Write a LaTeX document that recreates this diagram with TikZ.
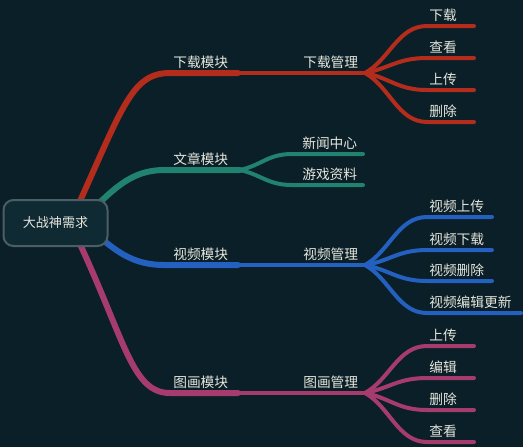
\documentclass[tikz,border=0pt]{standalone}
\usepackage{fontspec}
\newfontfamily\cjk{Noto Sans CJK SC}
\pgfdeclarelayer{bgl}
\pgfdeclarelayer{lines}
\pgfsetlayers{bgl,lines,main}
\definecolor{bgcol}{HTML}{0A1F27}
\definecolor{rootfill}{HTML}{0F2A33}
\definecolor{rootline}{HTML}{4C5E65}
\definecolor{txt}{HTML}{E6E6DC}
\definecolor{cred}{HTML}{B42C1C}
\definecolor{cteal}{HTML}{21826F}
\definecolor{cblue}{HTML}{2460BF}
\definecolor{cpink}{HTML}{A63B6D}
\tikzset{
  rootbox/.style={draw=rootline, fill=rootfill, line width=1.5pt, rounded corners=7.5pt,
    minimum width=78pt, minimum height=34.5pt, text=txt, inner sep=0pt,
    font=\cjk\fontsize{9.8}{12}\selectfont},
  lbl/.style={anchor=west, inner sep=0pt, text=txt, font=\cjk\fontsize{10.3}{12}\selectfont},
  mainbr/.style={line width=4.5pt, line cap=round},
  subbr/.style={line width=3pt, line cap=round},
}
\begin{document}
\begin{tikzpicture}[x=0.75pt,y=-0.75pt]
\begin{pgfonlayer}{bgl}
\fill[bgcol] (0,0) rectangle (523,447);
\end{pgfonlayer}
\useasboundingbox (0,0) rectangle (523,447);

\node[rootbox] (root) at (55.5,223) {大战神需求};

% coordinates
\coordinate (rs) at (70,223);
\coordinate (ts) at (70,230);
\coordinate (bs) at (70,212);
\coordinate (rm) at (238,73);   \coordinate (rf) at (365,73);
\coordinate (tf) at (240,170);
\coordinate (bm) at (238,265);  \coordinate (bf) at (365,265);
\coordinate (pm) at (238,393);  \coordinate (pf) at (365,393);

\coordinate (r1) at (474,26);  \coordinate (r2) at (474,58);
\coordinate (r3) at (474,90);  \coordinate (r4) at (474,122);
\coordinate (t1) at (363,154); \coordinate (t2) at (363,185);
\coordinate (b1) at (492,217); \coordinate (b2) at (492,250);
\coordinate (b3) at (492,281); \coordinate (b4) at (521,313);
\coordinate (p1) at (474,346); \coordinate (p2) at (474,378);
\coordinate (p3) at (474,410); \coordinate (p4) at (474,442);

\begin{pgfonlayer}{lines}
% red
\draw[mainbr, cred] (rs) .. controls (122,110) and (130,73) .. (170,73) -- (rm);
\draw[subbr, cred] (rm) -- (rf);
\draw[subbr, cred] (rf) .. controls (390,59) and (398,26) .. (427,26) -- (r1);
\draw[subbr, cred] (rf) .. controls (390,68) and (398,58) .. (427,58) -- (r2);
\draw[subbr, cred] (rf) .. controls (390,78) and (398,90) .. (427,90) -- (r3);
\draw[subbr, cred] (rf) .. controls (390,87) and (398,122) .. (427,122) -- (r4);
% teal
\draw[mainbr, cteal] (ts) .. controls (110,195) and (125,170) .. (165,170) -- (tf);
\draw[subbr, cteal] (tf) .. controls (262,165) and (268,154) .. (292,154) -- (t1);
\draw[subbr, cteal] (tf) .. controls (262,175) and (268,185) .. (292,185) -- (t2);
% blue
\draw[mainbr, cblue] (bs) .. controls (110,245) and (125,265) .. (165,265) -- (bm);
\draw[subbr, cblue] (bm) -- (bf);
\draw[subbr, cblue] (bf) .. controls (390,251) and (398,217) .. (427,217) -- (b1);
\draw[subbr, cblue] (bf) .. controls (390,261) and (398,250) .. (427,250) -- (b2);
\draw[subbr, cblue] (bf) .. controls (390,270) and (398,281) .. (427,281) -- (b3);
\draw[subbr, cblue] (bf) .. controls (390,279) and (398,313) .. (427,313) -- (b4);
% pink
\draw[mainbr, cpink] (rs) .. controls (125,336) and (130,393) .. (170,393) -- (pm);
\draw[subbr, cpink] (pm) -- (pf);
\draw[subbr, cpink] (pf) .. controls (390,379) and (398,346) .. (427,346) -- (p1);
\draw[subbr, cpink] (pf) .. controls (390,388) and (398,378) .. (427,378) -- (p2);
\draw[subbr, cpink] (pf) .. controls (390,398) and (398,410) .. (427,410) -- (p3);
\draw[subbr, cpink] (pf) .. controls (390,407) and (398,442) .. (427,442) -- (p4);
\end{pgfonlayer}

% labels
\node[lbl] (l1) at (173,62.5) {下载模块};
\node[lbl] (l11) at (303,62.5) {下载管理};
\node[lbl] (l111) at (429,15.5) {下载};
\node[lbl] (l112) at (429,47.5) {查看};
\node[lbl] (l113) at (429,79.5) {上传};
\node[lbl] (l114) at (429,111.5) {删除};

\node[lbl] (l2) at (173,159.5) {文章模块};
\node[lbl] (l21) at (302,143.5) {新闻中心};
\node[lbl] (l22) at (302,174.5) {游戏资料};

\node[lbl] (l3) at (173,254.5) {视频模块};
\node[lbl] (l31) at (303,254.5) {视频管理};
\node[lbl] (l311) at (429,206.5) {视频上传};
\node[lbl] (l312) at (429,239.5) {视频下载};
\node[lbl] (l313) at (429,270.5) {视频删除};
\node[lbl] (l314) at (429,302.5) {视频编辑更新};

\node[lbl] (l4) at (173,382.5) {图画模块};
\node[lbl] (l41) at (303,382.5) {图画管理};
\node[lbl] (l411) at (429,335.5) {上传};
\node[lbl] (l412) at (429,367.5) {编辑};
\node[lbl] (l413) at (429,399.5) {删除};
\node[lbl] (l414) at (429,431.5) {查看};
\end{tikzpicture}
\end{document}
